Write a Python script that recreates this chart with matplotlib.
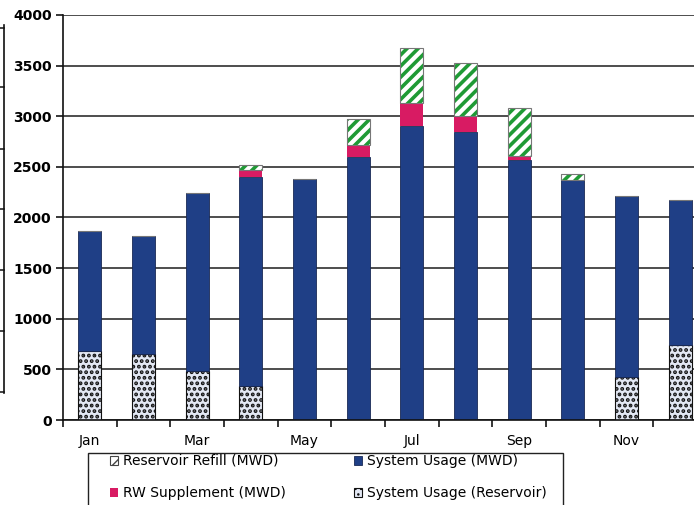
import numpy as np
import matplotlib
matplotlib.use("Agg")
import matplotlib.pyplot as plt
from matplotlib.lines import Line2D
from matplotlib.patches import Rectangle, Patch

months = ["Jan", "Feb", "Mar", "Apr", "May", "Jun", "Jul", "Aug", "Sep", "Oct", "Nov", "Dec"]
tick_labels = ["Jan", "", "Mar", "", "May", "", "Jul", "", "Sep", "", "Nov", ""]
sys_reservoir = [680, 655, 480, 340, 0, 0, 0, 0, 0, 0, 420, 745]
sys_mwd = [1190, 1165, 1760, 2060, 2385, 2600, 2905, 2840, 2565, 2370, 1790, 1425]
rw_supplement = [0, 0, 0, 65, 0, 120, 225, 160, 40, 0, 0, 0]
reservoir_refill = [0, 0, 0, 50, 0, 250, 545, 525, 480, 55, 0, 0]

NAVY = "#1f3f86"
CRIMSON = "#d81b63"
GREEN = "#1f9a35"

W, H = 694, 505
fig = plt.figure(figsize=(W / 100, H / 100), dpi=100)
ax = fig.add_axes([63 / W, 1 - 420 / H, (707 - 63) / W, (420 - 15) / H])

x = np.arange(len(months))
res = np.array(sys_reservoir)
mwd = np.array(sys_mwd)
rw = np.array(rw_supplement)
ref = np.array(reservoir_refill)
bw = 0.43

with plt.rc_context({"hatch.linewidth": 1.9}):
    b_res = ax.bar(x, res, bw, color="#e3e8f4", edgecolor="#111111", hatch="...",
                   linewidth=0.8, label="System Usage (Reservoir)")
b_mwd = ax.bar(x, mwd, bw, bottom=res, color=NAVY, edgecolor="#1a2a55",
               linewidth=0.6, label="System Usage (MWD)")
b_rw = ax.bar(x, rw, bw, bottom=res + mwd, color=CRIMSON, edgecolor=CRIMSON,
              linewidth=0.0, label="RW Supplement (MWD)")
with plt.rc_context({"hatch.linewidth": 2.6}):
    b_ref = ax.bar(x, ref, bw, bottom=res + mwd + rw, color="white", edgecolor=GREEN,
                   hatch="///", linewidth=0.0, label="Reservoir Refill (MWD)")
# outline of refill segments
ax.bar(x, ref, bw, bottom=res + mwd + rw, fill=False, edgecolor="#777777",
       linewidth=0.8)

ax.set_xlim(-0.5, 11.5)
ax.set_ylim(0, 4000)
ax.set_yticks(np.arange(0, 4001, 500))
ax.yaxis.grid(True, color="#1c1c1c", linewidth=1.1)
ax.set_axisbelow(True)
for s in ["top", "right"]:
    ax.spines[s].set_visible(False)
for s in ["left", "bottom"]:
    ax.spines[s].set_color("#111111")
    ax.spines[s].set_linewidth(1.2)

ax.set_xticks(x)
ax.set_xticklabels(tick_labels, fontsize=10)
ax.set_xticks(np.arange(-0.5, 12, 1), minor=True)
ax.tick_params(axis="x", which="major", length=0, pad=10)
ax.tick_params(axis="x", which="minor", length=5, width=1.1, direction="out")
ax.tick_params(axis="y", length=5, width=1.1, pad=3)
for t in ax.get_yticklabels():
    t.set_fontweight("bold")
    t.set_fontsize(10)

# remnant of neighbouring chart at left edge
fig.add_artist(Line2D([4 / W, 4 / W], [1 - 25 / H, 1 - 393 / H], transform=fig.transFigure,
                      color="#111111", lw=1.2))
for yy in [28, 87, 149, 209, 270, 331, 392]:
    fig.add_artist(Line2D([0, 4 / W], [1 - yy / H, 1 - yy / H], transform=fig.transFigure,
                          color="#111111", lw=1.1))

# legend frame
fig.add_artist(Rectangle((88 / W, 1 - 515 / H), (563 - 88) / W, (515 - 453) / H,
                         transform=fig.transFigure, fill=False, edgecolor="#222222", lw=1.0))
ref_handle = Patch(facecolor="white", edgecolor="#444444", hatch="///", linewidth=0.8)
leg = fig.legend(handles=[ref_handle, b_rw, b_mwd, b_res],
                 labels=["Reservoir Refill (MWD)", "RW Supplement (MWD)",
                         "System Usage (MWD)", "System Usage (Reservoir)"],
                 loc="upper left", bbox_to_anchor=(110 / W, 1 - 454 / H),
                 bbox_transform=fig.transFigure, ncol=2, frameon=False,
                 fontsize=10, handlelength=0.6, handleheight=0.6, handletextpad=0.35,
                 columnspacing=4.9, labelspacing=1.3, borderpad=0, borderaxespad=0)

fig.savefig("out.png", dpi=100)
